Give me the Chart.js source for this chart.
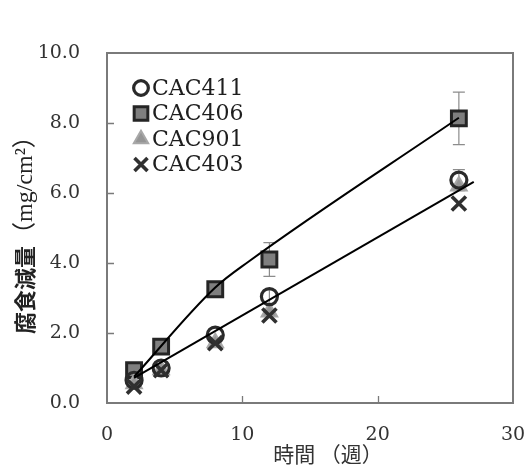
<!DOCTYPE html>
<html lang="ja">
<head>
<meta charset="UTF-8">
<title>腐食減量</title>
<script src="https://cdn.jsdelivr.net/npm/chart.js"></script>
<style>
  html, body { margin: 0; padding: 0; background: #fff; }
  #wrap { width: 529px; height: 469px; }
</style>
</head>
<body>
<div id="wrap"><canvas id="myChart" width="529" height="469"></canvas></div>
<script>
// data
const weeks = [2, 4, 8, 12, 26];
const cac411 = [0.65, 1.00, 1.94, 3.04, 6.37];
const cac406 = [0.94, 1.61, 3.25, 4.10, 8.13];
const cac901 = [0.55, 0.95, 1.72, 2.60, 6.20];
const cac403 = [0.47, 0.94, 1.71, 2.50, 5.70];

// error bars (only a few points have them)
const err411 = [0, 0, 0, 0.20, 0.30];
const err406 = [0, 0, 0, 0.48, 0.75];

// trend lines
const trendAX = [2, 8, 10.5, 26];
const trendAY = [0.75, 3.3, 4.05, 8.15];
const trendBX = [2, 27.1];
const trendBY = [0.72, 6.32];

const xTicks = [0, 10, 20, 30];
const yTicks = [0, 2, 4, 6, 8, 10];

const pts = (xs, ys) => xs.map((x, i) => ({ x: x, y: ys[i] }));

const markerSets = [
	{ label: 'CAC411', data: pts(weeks, cac411), pointStyle: 'circle', pointRadius: 8,
	  borderWidth: 3.2, borderColor: '#2a2a2a', backgroundColor: 'rgba(0,0,0,0)', order: 2, err: err411 },
	{ label: 'CAC406', data: pts(weeks, cac406), pointStyle: 'rect', pointRadius: 10.5,
	  borderWidth: 3, borderColor: '#252525', backgroundColor: '#7f7f7f', order: 4, err: err406 },
	{ label: 'CAC901', data: pts(weeks, cac901), pointStyle: 'triangle', pointRadius: 9,
	  borderWidth: 2, borderColor: '#a8a8a8', backgroundColor: '#959595', order: 3 },
	{ label: 'CAC403', data: pts(weeks, cac403), pointStyle: 'crossRot', pointRadius: 10,
	  borderWidth: 3.6, borderColor: '#303030', backgroundColor: '#303030', order: 1 }
];
markerSets.forEach(d => { d.showLine = false; d.pointHoverRadius = d.pointRadius; });

const lineSets = [
	{ label: 'trendA', data: pts(trendAX, trendAY), showLine: true, pointRadius: 0,
	  borderColor: '#000', borderWidth: 2, order: 0, cubicInterpolationMode: 'monotone' },
	{ label: 'trendB', data: pts(trendBX, trendBY), showLine: true, pointRadius: 0,
	  borderColor: '#000', borderWidth: 2, order: 0 }
];

const FRAME = '#7a7a7a';

const extras = {
	id: 'extras',
	beforeDatasetsDraw(chart) {
		const ctx = chart.ctx, xs = chart.scales.x, ys = chart.scales.y;
		ctx.save();
		ctx.strokeStyle = '#8c8c8c';
		ctx.lineWidth = 1.2;
		markerSets.forEach(ds => {
			if (!ds.err) return;
			ds.data.forEach((p, i) => {
				const e = ds.err[i];
				if (!e) return;
				const px = xs.getPixelForValue(p.x);
				const top = ys.getPixelForValue(p.y + e);
				const bot = ys.getPixelForValue(p.y - e);
				ctx.beginPath();
				ctx.moveTo(px, top); ctx.lineTo(px, bot);
				ctx.moveTo(px - 6, top); ctx.lineTo(px + 6, top);
				ctx.moveTo(px - 6, bot); ctx.lineTo(px + 6, bot);
				ctx.stroke();
			});
		});
		ctx.restore();
	},
	afterDraw(chart) {
		const ctx = chart.ctx, a = chart.chartArea, xs = chart.scales.x, ys = chart.scales.y;
		ctx.save();
		// frame
		ctx.strokeStyle = FRAME;
		ctx.lineWidth = 2;
		ctx.strokeRect(a.left, a.top, a.right - a.left, a.bottom - a.top);
		// inward ticks
		ctx.beginPath();
		yTicks.slice(1, -1).forEach(v => {
			const py = Math.round(ys.getPixelForValue(v)) + 0.5;
			ctx.moveTo(a.left, py); ctx.lineTo(a.left + 7, py);
		});
		xTicks.slice(1, -1).forEach(v => {
			const px = Math.round(xs.getPixelForValue(v)) + 0.5;
			ctx.moveTo(px, a.bottom); ctx.lineTo(px, a.bottom - 7);
		});
		ctx.lineWidth = 1.3;
		ctx.stroke();

		// x title
		ctx.fillStyle = '#333';
		ctx.font = '21px "Noto Sans CJK JP"';
		ctx.textAlign = 'center';
		ctx.textBaseline = 'middle';
		ctx.fillText('時間 （週）', 328, 454);

		// y title, two fonts, reading upward from y=334
		const p1 = '腐食減量', p2 = '（mg/cm²）';
		const f1 = 'bold 22px "Noto Sans CJK JP"', f2 = '24px "Liberation Serif", "Noto Sans CJK JP"';
		ctx.font = f1; const w1 = ctx.measureText(p1).width;
		ctx.translate(25, 334);
		ctx.rotate(-Math.PI / 2);
		ctx.textAlign = 'left';
		ctx.fillStyle = '#222';
		ctx.font = f1; ctx.fillText(p1, 0, 0);
		ctx.font = f2; ctx.fillText(p2, w1, 1);
		ctx.setTransform(1, 0, 0, 1, 0, 0);

		// legend inside plot
		const draw = Chart.helpers && Chart.helpers.drawPoint;
		markerSets.forEach((ds, i) => {
			const cx = 141, cy = 88 + i * 25.5;
			ctx.fillStyle = ds.backgroundColor;
			ctx.strokeStyle = ds.borderColor;
			ctx.lineWidth = ds.borderWidth;
			if (draw) draw(ctx, { pointStyle: ds.pointStyle, radius: ds.pointRadius * 0.92, rotation: 0, borderWidth: ds.borderWidth }, cx, cy);
			ctx.fillStyle = '#1e1e1e';
			ctx.font = '22px "DejaVu Serif"';
			ctx.textAlign = 'left';
			ctx.textBaseline = 'middle';
			ctx.fillText(ds.label, 152, cy + 1);
		});
		ctx.restore();
	}
};

const ctx = document.getElementById('myChart').getContext('2d');
const myChart = new Chart(ctx, {
	type: 'scatter',
	data: { datasets: lineSets.concat(markerSets) },
	options: {
		responsive: false,
		animation: false,
		layout: { padding: { left: 0, right: 16, top: 53, bottom: 0 } },
		plugins: { legend: { display: false }, tooltip: { enabled: false } },
		scales: {
			x: {
				type: 'linear', min: 0, max: 30,
				afterBuildTicks: s => { s.ticks = xTicks.map(v => ({ value: v })); },
				afterFit: s => { s.height = 66; },
				grid: { display: false, drawTicks: true, tickLength: 21 },
				border: { display: false },
				ticks: { color: '#333', padding: 0, font: { family: 'DejaVu Serif', size: 19 } }
			},
			y: {
				type: 'linear', min: 0, max: 10,
				afterBuildTicks: s => { s.ticks = yTicks.map(v => ({ value: v })); },
				afterFit: s => { s.width = 107; },
				grid: { display: false, drawTicks: false },
				border: { display: false },
				ticks: { color: '#333', padding: 27, font: { family: 'DejaVu Serif', size: 19 },
					callback: v => v.toFixed(1) }
			}
		}
	},
	plugins: [extras]
});
</script>
</body>
</html>
